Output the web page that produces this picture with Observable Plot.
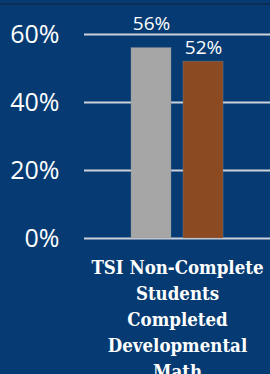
<!DOCTYPE html>
<html>
<head>
<meta charset="utf-8">
<script src="https://cdn.jsdelivr.net/npm/d3@7"></script>
<script src="https://cdn.jsdelivr.net/npm/@observablehq/plot@0.6"></script>
<style>
  html, body { margin: 0; padding: 0; background: #053b72; }
  body { width: 270px; height: 374px; overflow: hidden; position: relative; }
  #topline { position: absolute; left: 0; top: 3px; width: 270px; height: 2px; background: #0b2c55; }
  #chart svg { display: block; }
</style>
</head>
<body>
<div id="topline"></div>
<div id="chart"></div>
<script>
const categories = ["TSI Non-Complete\nStudents\nCompleted\nDevelopmental\nMath"];
const seriesNames = ["Series 1", "Series 2"];
const seriesValues = [56, 52];
const seriesColors = ["#a6a6a6", "#8b4a22"];
const yTicks = [0, 20, 40, 60];

const data = seriesNames.map((s, i) => ({category: categories[0], series: s, value: seriesValues[i]}));

const chart = Plot.plot({
  width: 270,
  height: 374,
  marginTop: 34,
  marginBottom: 136,
  marginLeft: 84,
  marginRight: 0,
  style: {background: "transparent", color: "#ffffff", fontFamily: "'Open Sans', sans-serif"},
  fx: {domain: categories, padding: 0, label: null},
  x: {domain: seriesNames, paddingInner: 0.226, paddingOuter: 0.87, axis: null},
  y: {domain: [0, 60], ticks: yTicks, label: null},
  color: {domain: seriesNames, range: seriesColors},
  marks: [
    Plot.gridY(yTicks, {stroke: "#cdd2da", strokeOpacity: 1, strokeWidth: 2}),
    Plot.axisY(yTicks, {tickSize: 0, tickPadding: 25, fontSize: 25, tickFormat: d => d + "%", fill: "#ffffff"}),
    Plot.barY(data, {fx: "category", x: "series", y: "value", fill: "series", stroke: "#8a8f96", strokeWidth: 0.6, strokeOpacity: 0.6}),
    Plot.text(data.filter((d, i) => i === 0), {fx: "category", x: "series", y: "value", text: d => d.value + "%", lineAnchor: "bottom", dy: -18, fontSize: 19, fill: "#ffffff"}),
    Plot.text(data.filter((d, i) => i === 1), {fx: "category", x: "series", y: "value", text: d => d.value + "%", lineAnchor: "bottom", dy: -8, fontSize: 19, fill: "#ffffff"}),
    Plot.axisFx({anchor: "bottom", tickSize: 0, tickPadding: 17, fontSize: 18.5, lineHeight: 1.405, fontWeight: "bold", fontFamily: "'DejaVu Serif Condensed', 'DejaVu Serif', serif", fontStretch: "condensed", fill: "#ffffff", label: null})
  ]
});
document.getElementById("chart").appendChild(chart);
</script>
</body>
</html>
